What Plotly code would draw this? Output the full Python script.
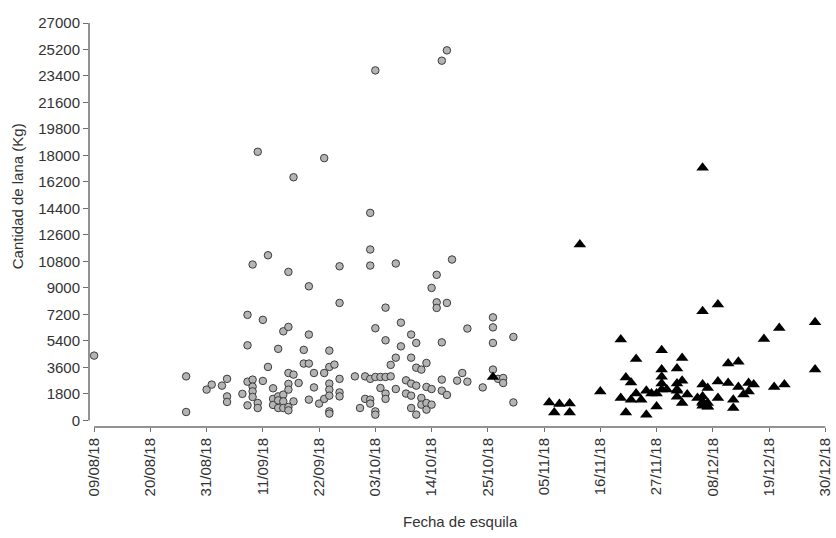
import plotly.graph_objects as go

# Group 1 (circles)
circle_dates = [
    "2018-08-09", "2018-08-27", "2018-08-27", "2018-08-31", "2018-09-01", "2018-09-03",
    "2018-09-04", "2018-09-04", "2018-09-04", "2018-09-07", "2018-09-08", "2018-09-08",
    "2018-09-08", "2018-09-08", "2018-09-09", "2018-09-09", "2018-09-09", "2018-09-09",
    "2018-09-09", "2018-09-10", "2018-09-10", "2018-09-10", "2018-09-11", "2018-09-11",
    "2018-09-12", "2018-09-12", "2018-09-13", "2018-09-13", "2018-09-13", "2018-09-14",
    "2018-09-14", "2018-09-14", "2018-09-14", "2018-09-15", "2018-09-15", "2018-09-15",
    "2018-09-15", "2018-09-16", "2018-09-16", "2018-09-16", "2018-09-16", "2018-09-16",
    "2018-09-16", "2018-09-16", "2018-09-17", "2018-09-17", "2018-09-17", "2018-09-18",
    "2018-09-19", "2018-09-19", "2018-09-20", "2018-09-20", "2018-09-20", "2018-09-20",
    "2018-09-21", "2018-09-21", "2018-09-22", "2018-09-23", "2018-09-23", "2018-09-23",
    "2018-09-24", "2018-09-24", "2018-09-24", "2018-09-24", "2018-09-24", "2018-09-24",
    "2018-09-24", "2018-09-25", "2018-09-26", "2018-09-26", "2018-09-26", "2018-09-26",
    "2018-09-26", "2018-09-29", "2018-09-30", "2018-10-01", "2018-10-01", "2018-10-02",
    "2018-10-02", "2018-10-02", "2018-10-02", "2018-10-02", "2018-10-02", "2018-10-03",
    "2018-10-03", "2018-10-03", "2018-10-03", "2018-10-03", "2018-10-04", "2018-10-04",
    "2018-10-05", "2018-10-05", "2018-10-05", "2018-10-05", "2018-10-05", "2018-10-06",
    "2018-10-06", "2018-10-07", "2018-10-07", "2018-10-07", "2018-10-08", "2018-10-08",
    "2018-10-09", "2018-10-09", "2018-10-10", "2018-10-10", "2018-10-10", "2018-10-10",
    "2018-10-10", "2018-10-11", "2018-10-11", "2018-10-11", "2018-10-11", "2018-10-12",
    "2018-10-12", "2018-10-12", "2018-10-13", "2018-10-13", "2018-10-13", "2018-10-13",
    "2018-10-14", "2018-10-14", "2018-10-14", "2018-10-15", "2018-10-15", "2018-10-15",
    "2018-10-16", "2018-10-16", "2018-10-16", "2018-10-16", "2018-10-17", "2018-10-17",
    "2018-10-17", "2018-10-18", "2018-10-19", "2018-10-20", "2018-10-21", "2018-10-21",
    "2018-10-24", "2018-10-26", "2018-10-26", "2018-10-26", "2018-10-26", "2018-10-27",
    "2018-10-28", "2018-10-28", "2018-10-30", "2018-10-30",
]
circle_values = [
    4400, 2990, 570, 2090, 2430, 2360,
    2820, 1630, 1250, 1800, 7170, 5100,
    2630, 1020, 10590, 2770, 2290, 1970,
    1590, 18250, 1180, 840, 6830, 2680,
    11220, 3630, 2180, 1460, 1050, 4860,
    1630, 1360, 840, 6050, 1750, 1290,
    840, 10090, 6350, 3220, 2480, 2090,
    910, 680, 16520, 3110, 1290, 2540,
    4790, 3860, 5830, 3860, 1410, 9110,
    3220, 2240, 1140, 17820, 3220, 1460,
    4740, 3630, 2500, 2090, 1680, 610,
    460, 3790, 10470, 7980, 2820, 1900,
    1630, 2990, 840, 2990, 1460, 2820,
    1410, 1140, 14100, 11610, 10520, 23780,
    6260, 2950, 610, 390, 2950, 2200,
    7660, 5440, 2950, 1820, 1460, 3770,
    2990, 10660, 4260, 2130, 6640, 5030,
    2720, 1820, 5830, 4260, 2500, 1680,
    840, 5260, 3580, 2360, 390, 3450,
    1520, 1070, 3900, 2270, 1180, 730,
    9000, 2130, 1070, 9890, 8020, 7640,
    5300, 2770, 2020, 24440, 25140, 7980,
    1730, 10930, 2700, 3220, 6240, 2630,
    2240, 3450, 7000, 6320, 5260, 2820,
    2880, 2540, 1220, 5670,
]

# Group 2 (triangles)
triangle_dates = [
    "2018-10-26", "2018-11-06", "2018-11-08", "2018-11-10", "2018-11-07", "2018-11-10",
    "2018-11-12", "2018-11-16", "2018-11-20", "2018-11-20", "2018-11-21", "2018-11-21",
    "2018-11-22", "2018-11-22", "2018-11-23", "2018-11-23", "2018-11-24", "2018-11-25",
    "2018-11-25", "2018-11-26", "2018-11-27", "2018-11-27", "2018-11-28", "2018-11-28",
    "2018-11-28", "2018-11-28", "2018-11-28", "2018-11-29", "2018-12-01", "2018-12-01",
    "2018-12-01", "2018-12-01", "2018-12-01", "2018-12-02", "2018-12-02", "2018-12-02",
    "2018-12-03", "2018-12-05", "2018-12-06", "2018-12-06", "2018-12-06", "2018-12-06",
    "2018-12-07", "2018-12-07", "2018-12-07", "2018-12-06", "2018-12-06", "2018-12-06",
    "2018-12-09", "2018-12-09", "2018-12-09", "2018-12-11", "2018-12-11", "2018-12-13",
    "2018-12-13", "2018-12-12", "2018-12-12", "2018-12-14", "2018-12-15", "2018-12-15",
    "2018-12-16", "2018-12-18", "2018-12-20", "2018-12-21", "2018-12-22", "2018-12-28",
    "2018-12-28", "2018-12-07",
]
triangle_values = [
    2950, 1220, 1120, 1140, 540, 540,
    11950, 1970, 5490, 1520, 2920, 540,
    2580, 1410, 1820, 4170, 1410, 2020,
    390, 1820, 1820, 950, 2090, 4760,
    3450, 2970, 2500, 2090, 2090, 3520,
    2500, 2020, 1610, 4240, 2700, 1180,
    1750, 1520, 1270, 2430, 1630, 1180,
    930, 2200, 1180, 1000, 7410, 17160,
    7870, 2650, 1520, 3860, 2540, 3990,
    2270, 1410, 840, 1750, 1970, 2540,
    2430, 5530, 2270, 6280, 2430, 6660,
    3450, 950,
]

x_title = "Fecha de esquila"
y_title = "Cantidad de lana (Kg)"
first_tick = "2018-08-09"
last_tick = "2018-12-30"
y_max = 27000
y_step = 1800

FONT = "Liberation Sans, Arial, sans-serif"
TXT = "#333333"
AX = "#6e6e6e"
FS = 15

fig = go.Figure()
fig.add_trace(go.Scatter(
    x=circle_dates, y=circle_values, mode="markers",
    marker=dict(symbol="circle", size=7.5, color="#b4b4b4",
                line=dict(color="#3c3c3c", width=1)),
    showlegend=False,
))
fig.add_trace(go.Scatter(
    x=triangle_dates, y=triangle_values, mode="markers",
    marker=dict(symbol="triangle-up", size=11, color="black",
                line=dict(color="black", width=0)),
    showlegend=False,
))

fig.update_layout(
    width=836, height=538,
    margin=dict(l=89, r=3, t=23, b=111),
    paper_bgcolor="white", plot_bgcolor="white",
    font=dict(family=FONT, size=FS, color=TXT),
    xaxis=dict(
        type="date",
        range=["2018-08-08", "2018-12-30 08:00"],
        tick0=first_tick, dtick=11 * 86400000,
        tickformat="%d/%m/%y", tickangle=-90,
        ticks="outside", ticklen=4, tickcolor=AX, tickwidth=1,
        ticklabeloverflow="allow",
        showgrid=False, zeroline=False, showline=False,
        tickfont=dict(size=FS, color=TXT, family=FONT),
    ),
    yaxis=dict(
        range=[-450, y_max],
        tick0=0, dtick=y_step, tickformat="d",
        ticks="outside", ticklen=5, tickcolor=AX, tickwidth=1,
        showgrid=False, zeroline=False, showline=False,
        tickfont=dict(size=FS, color=TXT, family=FONT),
    ),
    shapes=[
        dict(type="line", xref="paper", yref="y", x0=0, x1=0, y0=0, y1=y_max,
             line=dict(color=AX, width=1.5)),
        dict(type="line", xref="x", yref="paper", x0=first_tick, x1=last_tick,
             y0=0, y1=0, line=dict(color=AX, width=1.5)),
    ],
    annotations=[
        dict(text=x_title, xref="paper", yref="paper", x=0.503, y=-0.235,
             xanchor="center", yanchor="middle", showarrow=False,
             font=dict(size=FS, color=TXT, family=FONT)),
        dict(text=y_title, xref="paper", yref="paper", x=-0.0957, y=0.572,
             xanchor="center", yanchor="middle",
             textangle=-90, showarrow=False,
             font=dict(size=FS, color=TXT, family=FONT)),
    ],
)

fig.write_html(
    "out.html",
    config={"displayModeBar": False},
    post_script="document.body.style.margin='0';document.body.style.overflow='hidden';",
)
